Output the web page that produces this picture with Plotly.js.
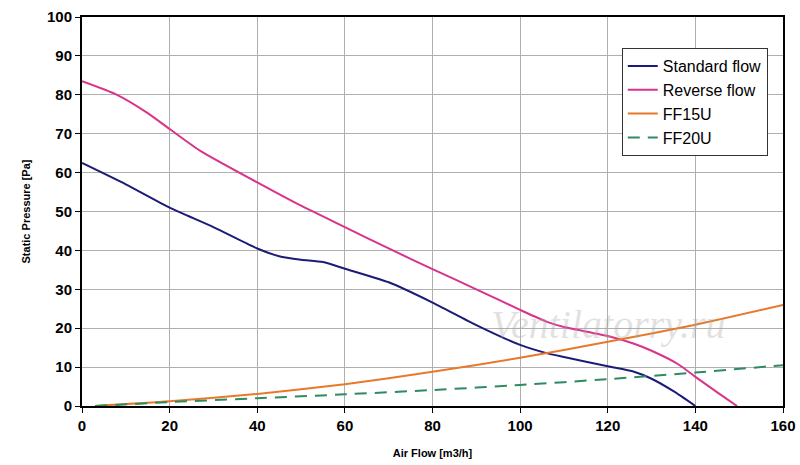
<!DOCTYPE html>
<html>
<head>
<meta charset="utf-8">
<script src="https://cdn.plot.ly/plotly-3.0.1.min.js"></script>
<style>
  html, body { margin: 0; padding: 0; background: #fff; }
  #chart { width: 800px; height: 465px; }
</style>
</head>
<body>
<div id="chart"></div>
<script>
// Air flow values (m3/h) and static pressure (Pa)
const standardX = [0, 10, 20, 30, 40, 45, 50, 55, 60, 70, 80, 90, 100, 106, 110, 120, 126, 130, 135, 140];
const standardY = [62.5, 57, 51, 46, 40.5, 38.5, 37.6, 37, 35.3, 31.8, 26.6, 20.8, 15.7, 13.6, 12.6, 10.2, 8.8, 7, 3.8, 0];

const reverseX = [0, 8, 15, 20, 27, 40, 50, 60, 70, 80, 90, 100, 106, 110, 120, 126, 130, 136, 140, 145, 149.5];
const reverseY = [83.5, 80, 75.3, 71.2, 65.6, 57.5, 51.5, 46, 40.5, 35.2, 30, 24.7, 21.7, 20.3, 18, 16, 14.2, 10.8, 7.5, 3.5, 0];

const ff15uX = [3, 20, 40, 60, 80, 100, 120, 140, 160];
const ff15uY = [0, 1.2, 3.1, 5.6, 8.8, 12.4, 16.5, 20.9, 26];

const ff20uX = [3, 20, 40, 60, 80, 100, 120, 140, 160];
const ff20uY = [0, 1.0, 2.0, 3.0, 4.1, 5.4, 6.9, 8.6, 10.5];

const xTicks = [0, 20, 40, 60, 80, 100, 120, 140, 160];
const yTicks = [0, 10, 20, 30, 40, 50, 60, 70, 80, 90, 100];

const traces = [
  { x: standardX, y: standardY, name: "Standard flow", mode: "lines",
    line: { color: "#1c1c78", width: 2, shape: "spline", smoothing: 0.6 } },
  { x: reverseX, y: reverseY, name: "Reverse flow", mode: "lines",
    line: { color: "#d9338c", width: 2, shape: "spline", smoothing: 0.6 } },
  { x: ff15uX, y: ff15uY, name: "FF15U", mode: "lines",
    line: { color: "#e8782a", width: 2, shape: "spline", smoothing: 0.6 } },
  { x: ff20uX, y: ff20uY, name: "FF20U", mode: "lines",
    line: { color: "#2e8b5f", width: 2, dash: "12px,8px", shape: "spline", smoothing: 0.6 } },
];

const layout = {
  width: 800,
  height: 465,
  margin: { l: 82, r: 17, t: 17, b: 59 },
  paper_bgcolor: "#fff",
  plot_bgcolor: "#fff",
  font: { family: "Liberation Sans, Arial, sans-serif", color: "#000" },
  showlegend: true,
  legend: {
    x: 0.77, y: 0.92, xanchor: "left", yanchor: "top",
    bgcolor: "#fff", bordercolor: "#333", borderwidth: 1,
    font: { size: 16, color: "#000" },
    tracegroupgap: 0,
  },
  xaxis: {
    range: [0, 160],
    tickvals: xTicks,
    ticktext: xTicks.map(v => "<b>" + v + "</b>"),
    tickfont: { size: 15 },
    showgrid: true, gridcolor: "#b0b0b0", gridwidth: 1,
    showline: true, linecolor: "#000", linewidth: 2, mirror: true,
    ticks: "outside", ticklen: 5, tickcolor: "#000",
    zeroline: false,
    title: { text: "<b>Air Flow [m3/h]</b>", font: { size: 11 }, standoff: 16 },
  },
  yaxis: {
    range: [0, 100],
    tickvals: yTicks,
    ticktext: yTicks.map(v => "<b>" + v + "</b>"),
    tickfont: { size: 15 },
    showgrid: true, gridcolor: "#b0b0b0", gridwidth: 1,
    showline: true, linecolor: "#000", linewidth: 2, mirror: true,
    ticks: "outside", ticklen: 5, tickcolor: "#000",
    zeroline: false,
    title: { text: "<b>Static Pressure [Pa]</b>", font: { size: 11 }, standoff: 14 },
  },
  annotations: [
    {
      text: "<i>Ventilatorry.ru</i>", x: 0.75, y: 0.21, xref: "paper", yref: "paper",
      xanchor: "center", yanchor: "middle",
      showarrow: false, font: { size: 40, color: "rgba(170,170,170,0.35)", family: "Liberation Serif, serif" },
    },
  ],
};

Plotly.newPlot("chart", traces, layout, { displayModeBar: false, staticPlot: true });
</script>
</body>
</html>
